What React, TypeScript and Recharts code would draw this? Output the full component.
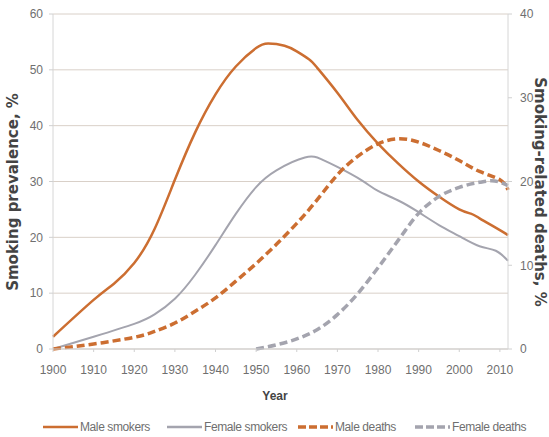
import { CartesianGrid, Line, LineChart, XAxis, YAxis } from "recharts";

interface Pt {
  year: number;
  v: number;
}

// left axis, %
const maleSmokers: Pt[] = [
  { year: 1900, v: 2.2 }, { year: 1910, v: 8.8 }, { year: 1915, v: 11.7 }, { year: 1920, v: 15.4 },
  { year: 1925, v: 21.5 }, { year: 1930, v: 30.3 }, { year: 1935, v: 38.8 }, { year: 1940, v: 45.6 },
  { year: 1945, v: 50.6 }, { year: 1950, v: 53.9 }, { year: 1953, v: 54.7 }, { year: 1957, v: 54.3 },
  { year: 1960, v: 53.3 }, { year: 1963, v: 51.9 }, { year: 1965, v: 50.4 }, { year: 1970, v: 45.9 },
  { year: 1975, v: 41 }, { year: 1980, v: 36.8 }, { year: 1985, v: 33.2 }, { year: 1990, v: 30 },
  { year: 1995, v: 27.3 }, { year: 2000, v: 25 }, { year: 2003, v: 24.2 }, { year: 2005, v: 23.4 },
  { year: 2010, v: 21.3 }, { year: 2012, v: 20.4 },
];

const femaleSmokers: Pt[] = [
  { year: 1900, v: 0 }, { year: 1910, v: 2.2 }, { year: 1920, v: 4.5 }, { year: 1925, v: 6.2 },
  { year: 1930, v: 9 }, { year: 1935, v: 13.3 }, { year: 1940, v: 18.6 }, { year: 1945, v: 24.2 },
  { year: 1950, v: 29 }, { year: 1955, v: 32 }, { year: 1962, v: 34.3 }, { year: 1966, v: 34 },
  { year: 1970, v: 32.6 }, { year: 1976, v: 30.2 }, { year: 1980, v: 28.3 }, { year: 1985, v: 26.6 },
  { year: 1990, v: 24.5 }, { year: 1995, v: 22.2 }, { year: 2000, v: 20.2 }, { year: 2005, v: 18.4 },
  { year: 2009, v: 17.6 }, { year: 2012, v: 15.8 },
];

// right axis, %
const maleDeaths: Pt[] = [
  { year: 1900, v: 0 }, { year: 1910, v: 0.6 }, { year: 1920, v: 1.4 }, { year: 1925, v: 2.1 },
  { year: 1930, v: 3.1 }, { year: 1935, v: 4.5 }, { year: 1940, v: 6.1 }, { year: 1945, v: 8.1 },
  { year: 1950, v: 10.2 }, { year: 1955, v: 12.5 }, { year: 1960, v: 15 }, { year: 1965, v: 17.8 },
  { year: 1970, v: 20.8 }, { year: 1975, v: 23 }, { year: 1980, v: 24.5 }, { year: 1985, v: 25.1 },
  { year: 1990, v: 24.7 }, { year: 1995, v: 23.7 }, { year: 2000, v: 22.5 }, { year: 2005, v: 21.2 },
  { year: 2010, v: 20.2 }, { year: 2012, v: 19 },
];

const femaleDeaths: Pt[] = [
  { year: 1950, v: 0 }, { year: 1955, v: 0.5 }, { year: 1960, v: 1.2 }, { year: 1965, v: 2.3 },
  { year: 1970, v: 4.1 }, { year: 1975, v: 6.6 }, { year: 1980, v: 9.7 }, { year: 1985, v: 13 },
  { year: 1990, v: 16.2 }, { year: 1995, v: 18.2 }, { year: 2000, v: 19.3 }, { year: 2005, v: 19.9 },
  { year: 2008, v: 20.1 }, { year: 2012, v: 19.5 },
];

const yearTicks = [1900, 1910, 1920, 1930, 1940, 1950, 1960, 1970, 1980, 1990, 2000, 2010];
const leftTicks = [0, 10, 20, 30, 40, 50, 60];
const rightTicks = [0, 10, 20, 30, 40];

const ORANGE = "#cc6e31";
const GRAY = "#a4a4ae";
const TEXT = "#6f6f6f";
const FONT = "'Liberation Sans Narrow', 'Liberation Sans', Arial, sans-serif";
const TITLE_FONT = "'DejaVu Sans', Verdana, sans-serif";

const legendItems = [
  { name: "Male smokers", color: ORANGE, dashed: false, x: 43 },
  { name: "Female smokers", color: GRAY, dashed: false, x: 167 },
  { name: "Male deaths", color: ORANGE, dashed: true, x: 298 },
  { name: "Female deaths", color: GRAY, dashed: true, x: 415 },
];

const tick = { fill: TEXT, fontSize: 12, fontFamily: FONT };

export default function App() {
  return (
    <div style={{ position: "absolute", left: 0, top: 0, width: 549, height: 437, background: "#fff" }}>
      <LineChart width={549} height={437} margin={{ top: 14, right: 0, left: 0, bottom: 58 }}>
        <CartesianGrid vertical={false} stroke="#d9d0c8" yAxisId="left" />
        <XAxis
          dataKey="year"
          type="number"
          domain={[1900, 2012]}
          ticks={yearTicks}
          allowDuplicatedCategory={false}
          tick={tick}
          tickLine={{ stroke: "#d0d0d0" }}
          tickSize={3}
          axisLine={{ stroke: "#cfcfcf" }}
          height={30}
          tickMargin={13}
        />
        <YAxis
          yAxisId="left"
          orientation="left"
          domain={[0, 60]}
          ticks={leftTicks}
          width={53}
          tick={tick}
          tickLine={{ stroke: "#d0d0d0" }}
          tickSize={4}
          tickMargin={6}
          axisLine={{ stroke: "#d6d6d6" }}
        />
        <YAxis
          yAxisId="right"
          orientation="right"
          domain={[0, 40]}
          ticks={rightTicks}
          width={41}
          tick={tick}
          tickLine={{ stroke: "#d0d0d0" }}
          tickSize={4}
          tickMargin={8}
          axisLine={{ stroke: "#d6d6d6" }}
        />
        <Line yAxisId="left" data={maleSmokers} dataKey="v" type="natural" stroke={ORANGE} strokeWidth={2.5} dot={false} isAnimationActive={false} />
        <Line yAxisId="left" data={femaleSmokers} dataKey="v" type="natural" stroke={GRAY} strokeWidth={2} dot={false} isAnimationActive={false} />
        <Line yAxisId="right" data={maleDeaths} dataKey="v" type="natural" stroke={ORANGE} strokeWidth={3.5} strokeDasharray="8 4" dot={false} isAnimationActive={false} />
        <Line yAxisId="right" data={femaleDeaths} dataKey="v" type="monotone" stroke={GRAY} strokeWidth={3.5} strokeDasharray="8 4" dot={false} isAnimationActive={false} />
      </LineChart>

      <div
        style={{
          position: "absolute", left: 13, top: 192, transform: "translate(-50%, -50%) rotate(-90deg)",
          whiteSpace: "nowrap", fontFamily: TITLE_FONT, fontWeight: "bold", fontSize: 15, color: "#444",
        }}
      >
        Smoking prevalence, %
      </div>
      <div
        style={{
          position: "absolute", left: 540, top: 192, transform: "translate(-50%, -50%) rotate(90deg)",
          whiteSpace: "nowrap", fontFamily: TITLE_FONT, fontWeight: "bold", fontSize: 15, color: "#444",
        }}
      >
        Smoking-related deaths, %
      </div>
      <div
        style={{
          position: "absolute", left: 275, top: 396, transform: "translate(-50%, -50%)",
          fontFamily: "'Liberation Sans', Arial, sans-serif", fontWeight: "bold", fontSize: 12, color: "#444",
        }}
      >
        Year
      </div>

      {legendItems.map((it) => (
        <div
          key={it.name}
          style={{ position: "absolute", left: it.x, top: 419, height: 16, display: "flex", alignItems: "center" }}
        >
          <svg width={35} height={6} style={{ marginRight: 2 }}>
            <line
              x1={0} y1={3} x2={35} y2={3}
              stroke={it.color}
              strokeWidth={it.dashed ? 3.5 : 2.5}
              strokeDasharray={it.dashed ? "8 3" : undefined}
            />
          </svg>
          <span style={{ fontFamily: FONT, fontSize: 12, letterSpacing: -0.4, color: TEXT, whiteSpace: "nowrap" }}>
            {it.name}
          </span>
        </div>
      ))}
    </div>
  );
}
